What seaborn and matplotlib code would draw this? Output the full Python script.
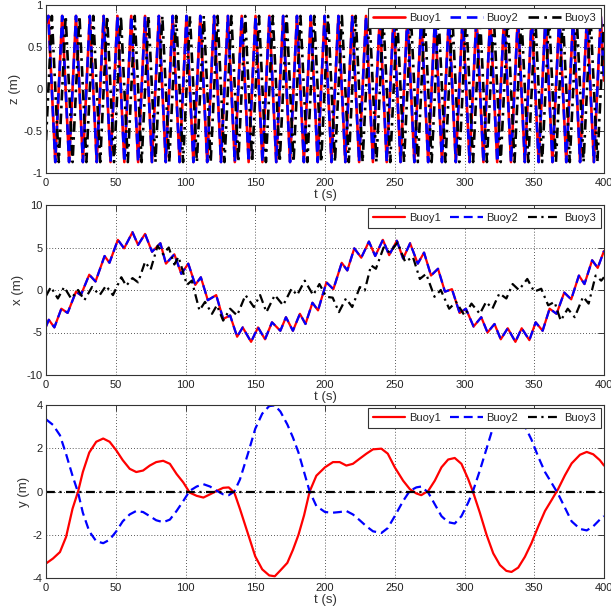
import numpy as np
import matplotlib
matplotlib.use("Agg")
import matplotlib.pyplot as plt
import seaborn as sns

# ---------------- data ----------------
series_names = ["Buoy1", "Buoy2", "Buoy3"]
xtick_vals = [0, 50, 100, 150, 200, 250, 300, 350, 400]

# heave z (m): extrema of the fast oscillation
t_z12 = [0.0] + list(np.arange(1.7, 400, 4.95)) + [400.0]
z_buoy12 = [0.78,
            0.87, -0.87, 0.87, -0.87, 0.87, -0.87, 0.87, -0.87, 0.87, -0.87,
            0.87, -0.87, 0.87, -0.87, 0.87, -0.87, 0.87, -0.87, 0.87, -0.87,
            0.87, -0.87, 0.87, -0.87, 0.87, -0.87, 0.87, -0.87, 0.87, -0.87,
            0.87, -0.87, 0.87, -0.87, 0.87, -0.87, 0.87, -0.87, 0.87, -0.87,
            0.87, -0.87, 0.87, -0.87, 0.87, -0.87, 0.87, -0.87, 0.87, -0.87,
            0.87, -0.87, 0.87, -0.87, 0.87, -0.87, 0.87, -0.87, 0.87, -0.87,
            0.87, -0.87, 0.87, -0.87, 0.87, -0.87, 0.87, -0.87, 0.87, -0.87,
            0.87, -0.87, 0.87, -0.87, 0.87, -0.87, 0.87, -0.87, 0.87, -0.87,
            0.87,
            0.10]
t_z3 = [0.0] + list(np.arange(4.2, 400, 4.95))[:80] + [400.0]
z_buoy3 = [-0.61,
           0.87, -0.87, 0.87, -0.87, 0.87, -0.87, 0.87, -0.87, 0.87, -0.87,
           0.87, -0.87, 0.87, -0.87, 0.87, -0.87, 0.87, -0.87, 0.87, -0.87,
           0.87, -0.87, 0.87, -0.87, 0.87, -0.87, 0.87, -0.87, 0.87, -0.87,
           0.87, -0.87, 0.87, -0.87, 0.87, -0.87, 0.87, -0.87, 0.87, -0.87,
           0.87, -0.87, 0.87, -0.87, 0.87, -0.87, 0.87, -0.87, 0.87, -0.87,
           0.87, -0.87, 0.87, -0.87, 0.87, -0.87, 0.87, -0.87, 0.87, -0.87,
           0.87, -0.87, 0.87, -0.87, 0.87, -0.87, 0.87, -0.87, 0.87, -0.87,
           0.87, -0.87, 0.87, -0.87, 0.87, -0.87, 0.87, -0.87, 0.87, -0.87,
           0.80]

# surge x (m)
t_x12 = [0, 2, 6, 11, 15.5, 21.5, 25, 31, 35.5, 42, 45.5, 51.5, 56, 62, 66, 71, 76,
         82, 86, 92, 97, 102, 107, 111, 116, 122, 127, 132, 137, 141, 147, 152,
         157, 162, 168, 172, 177, 182, 186, 191, 195, 201, 206, 212, 216, 221,
         226, 231.5, 236, 241.5, 246, 251.5, 256, 261, 266.5, 271, 276, 281, 286,
         291, 296.5, 301, 306.5, 312, 316.5, 321.5, 326, 331, 336.5, 341, 346.5,
         351, 356, 361, 366, 371.5, 376.5, 382, 386, 391.5, 395.5, 400]
x_buoy12 = [-4.3, -3.5, -4.4, -2.2, -2.7, -0.2, -0.6, 1.8, 1.0, 4.0, 3.2, 5.9, 4.9,
            6.8, 5.3, 6.6, 4.5, 5.5, 3.1, 4.2, 1.9, 3.1, 0.6, 1.5, -1.2, -0.6,
            -3.4, -3.0, -5.5, -4.4, -6.1, -4.4, -5.8, -3.8, -4.8, -3.2, -4.8,
            -2.8, -4.0, -1.5, -2.4, 0.9, 0.1, 3.2, 2.3, 4.9, 3.8, 5.7, 4.0, 5.9,
            4.1, 5.8, 3.7, 5.5, 3.1, 4.4, 1.7, 2.5, -0.2, 0.1, -2.7, -2.2, -4.3,
            -3.2, -5.0, -4.0, -5.8, -4.5, -6.1, -4.5, -5.9, -3.8, -4.8, -2.2,
            -2.8, -0.3, -1.1, 1.7, 0.7, 3.5, 2.6, 4.6]
t_x3 = [0, 3.5, 8.5, 13, 18, 23, 27.5, 33, 38.5, 43, 48, 54, 57.5, 62, 66, 71, 75,
        80, 84, 88, 92, 95, 101, 104.5, 110, 114, 119, 122.5, 127, 132, 137, 143,
        149, 153.5, 158, 164, 170, 176, 180, 185.5, 191.5, 196, 201, 205.5, 210,
        215, 219.5, 225, 228.5, 233, 236.5, 242, 246.5, 252, 257.5, 263, 268,
        272.5, 278.5, 283, 289, 294, 300, 305, 311, 315.5, 320, 325, 330, 334.5,
        339, 345, 350, 355, 360, 364.5, 369, 374, 379, 385, 389, 394, 398, 400]
x_buoy3 = [-0.7, 0.35, -1.0, 0.35, -1.0, 0.0, -1.2, 0.35, -0.6, 0.5, -0.6, 1.5,
           0.5, 1.4, 0.9, 3.3, 2.4, 5.2, 4.2, 5.0, 3.0, 3.9, 0.6, 1.1, -2.4, -1.4,
           -2.8, -1.8, -3.6, -2.2, -3.0, -0.6, -2.0, -0.6, -2.6, -0.6, -1.8, 0.15,
           -0.6, 1.1, -0.6, 0.7, -0.8, -0.9, -2.6, -1.0, -2.0, 0.35, -0.05, 2.9,
           2.5, 5.0, 4.4, 5.6, 3.3, 3.9, 1.3, 1.9, -0.8, 0.0, -2.2, -1.4, -3.0,
           -1.6, -2.8, -1.4, -2.2, -0.4, -1.0, 0.7, 0.0, 1.3, -0.2, 0.15, -1.8,
           -1.4, -3.6, -2.2, -3.2, -0.8, -1.6, 1.7, 1.1, 1.5]

# sway y (m)
t_y = [0, 5, 10, 14.4, 19, 23, 26.4, 31, 36, 41, 45.6, 50.4, 55, 60, 64.7, 69.6,
       74.4, 79, 84, 88.8, 93.6, 98.4, 103, 108, 112.8, 117.6, 122.4, 127, 131,
       135, 139, 145, 150, 155, 160, 164, 168, 173, 177, 181, 185, 189, 193.8,
       200, 205.7, 210.5, 215.3, 220, 224.9, 229.7, 234.4, 240.4, 245, 250, 256,
       260.8, 265.5, 269, 274, 278.7, 283.5, 288.3, 293, 297.8, 302.6, 306, 311,
       315.8, 320.6, 325.4, 330, 333.7, 338.5, 343.3, 348, 352.9, 357.7, 362.4,
       367, 372, 376.8, 382.8, 387.6, 392.3, 397, 400]
y_buoy1 = [-3.33, -3.1, -2.8, -2.1, -0.8, 0.0, 0.9, 1.8, 2.3, 2.45, 2.3, 1.9, 1.45,
           1.05, 0.9, 0.97, 1.2, 1.36, 1.42, 1.28, 0.81, 0.42, -0.05, -0.2, -0.28,
           -0.13, 0.03, 0.17, 0.19, -0.05, -0.8, -2.0, -3.0, -3.6, -3.88, -3.92,
           -3.65, -3.3, -2.7, -2.0, -1.1, 0.0, 0.73, 1.12, 1.36, 1.36, 1.2, 1.28,
           1.52, 1.75, 1.95, 1.98, 1.75, 1.12, 0.5, 0.11, -0.09, -0.17, 0.03, 0.5,
           1.12, 1.48, 1.55, 1.28, 0.58, 0.0, -0.98, -2.0, -2.86, -3.4, -3.67,
           -3.72, -3.52, -3.02, -2.39, -1.61, -0.9, -0.4, 0.1, 0.75, 1.3, 1.7,
           1.83, 1.72, 1.45, 1.2]
y_buoy2 = [3.34, 3.08, 2.6, 1.73, 0.73, -0.05, -0.98, -1.84, -2.3, -2.39, -2.23,
           -1.84, -1.38, -1.06, -0.9, -0.95, -1.14, -1.33, -1.42, -1.3, -0.9,
           -0.44, 0.03, 0.23, 0.34, 0.23, 0.03, -0.13, -0.17, 0.0, 0.55, 1.8, 2.9,
           3.6, 3.95, 3.98, 3.7, 3.1, 2.5, 1.8, 0.9, 0.0, -0.67, -0.95, -0.98,
           -0.95, -0.9, -1.06, -1.33, -1.61, -1.84, -1.92, -1.69, -1.14, -0.44,
           0.03, 0.19, 0.23, -0.05, -0.59, -1.14, -1.42, -1.48, -1.14, -0.52, 0.0,
           0.97, 1.98, 3.0, 3.45, 3.68, 3.72, 3.52, 3.02, 2.4, 1.6, 0.9, 0.4, -0.1,
           -0.75, -1.38, -1.73, -1.8, -1.61, -1.3, -1.14]
t_y3 = [0, 400]
y_buoy3 = [0.0, 0.0]

panels = [
    ("z (m)", [(t_z12, z_buoy12), (t_z12, z_buoy12), (t_z3, z_buoy3)], [-1, 1],
     [-1, -0.5, 0, 0.5, 1], ["-1", "-0.5", "0", "0.5", "1"], 1.9),
    ("x (m)", [(t_x12, x_buoy12), (t_x12, x_buoy12), (t_x3, x_buoy3)], [-10, 10],
     [-10, -5, 0, 5, 10], ["-10", "-5", "0", "5", "10"], 1.6),
    ("y (m)", [(t_y, y_buoy1), (t_y, y_buoy2), (t_y3, y_buoy3)], [-4, 4],
     [-4, -2, 0, 2, 4], ["-4", "-2", "0", "2", "4"], 1.6),
]

# ---------------- style ----------------
sns.set_theme(style="white")
plt.rcParams['font.family'] = ['Liberation Sans', 'DejaVu Sans']
plt.rcParams['axes.unicode_minus'] = False

colors = ["#ff0000", "#0000ff", "#000000"]
styles = ["-", (0, (4, 2.2)), (0, (4, 2, 1, 2))]

W, H = 611, 607
fig = plt.figure(figsize=(W / 100, H / 100), dpi=100)
boxes = [(5, 173), (205, 375), (405, 578)]
left_px, right_px = 46, 604

for (ylabel, data, ylim, yt, ytl, lw), (top, bot) in zip(panels, boxes):
    ax = fig.add_axes([left_px / W, 1 - bot / H, (right_px - left_px) / W, (bot - top) / H])
    for name, (tt, vv), c, ls in zip(series_names, data, colors, styles):
        sns.lineplot(x=np.asarray(tt, float), y=np.asarray(vv, float), ax=ax,
                     color=c, linewidth=lw, label=name, estimator=None, sort=False)
        ax.lines[-1].set_linestyle(ls)
    ax.set_xlim(0, 400)
    ax.set_ylim(*ylim)
    ax.set_xticks(xtick_vals)
    ax.set_xticklabels([str(v) for v in xtick_vals])
    ax.set_yticks(yt)
    ax.set_yticklabels(ytl)
    ax.grid(True, linestyle=(0, (1, 2.5)), color="#222222", linewidth=0.6)
    ax.set_axisbelow(True)
    ax.tick_params(direction="in", top=True, right=True, length=4, width=0.6,
                   labelsize=8, colors="#222222", labelcolor="#222222")
    ax.tick_params(axis="x", pad=3.5)
    ax.tick_params(axis="y", pad=2.5)
    for sp in ax.spines.values():
        sp.set_color("#333333")
        sp.set_linewidth(0.8)
    ax.set_xlabel("t (s)", fontsize=9.5, labelpad=1.0, color="#333333")
    ax.set_ylabel(ylabel, fontsize=9.5, labelpad=2, color="#333333")
    leg = ax.legend(loc="upper right", ncol=3, fontsize=8, frameon=True,
                    fancybox=False, framealpha=1, edgecolor="#333333",
                    handlelength=2.9, columnspacing=0.9, handletextpad=0.35,
                    borderaxespad=0.25, borderpad=0.45)
    leg.get_frame().set_linewidth(0.8)
    leg.set_zorder(10)

fig.savefig("out.png", dpi=100)
